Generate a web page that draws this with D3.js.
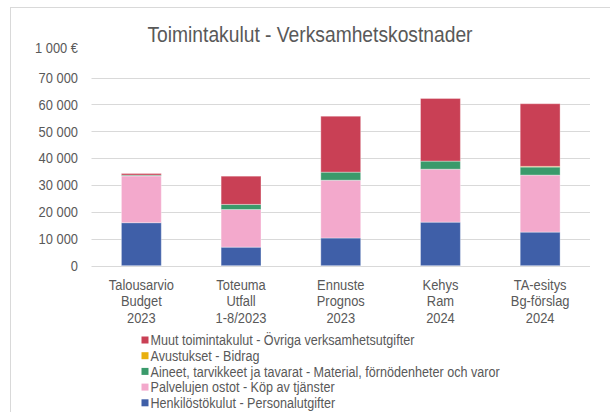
<!DOCTYPE html>
<html><head><meta charset="utf-8">
<script src="https://cdn.jsdelivr.net/npm/d3@7"></script>
<style>
html,body{margin:0;padding:0;background:#fff;}
svg{display:block;}
text{font-family:"Liberation Sans Narrow","Arial Narrow","Liberation Sans",sans-serif;fill:#595959;}
</style></head>
<body>
<svg id="chart" width="610" height="412"></svg>
<script>
const categories = [
  ["Talousarvio","Budget","2023"],
  ["Toteuma","Utfall","1-8/2023"],
  ["Ennuste","Prognos","2023"],
  ["Kehys","Ram","2024"],
  ["TA-esitys","Bg-förslag","2024"]
];
const seriesNames = [
  "Henkilöstökulut - Personalutgifter",
  "Palvelujen ostot - Köp av tjänster",
  "Aineet, tarvikkeet ja tavarat - Material, förnödenheter och varor",
  "Avustukset - Bidrag",
  "Muut toimintakulut - Övriga verksamhetsutgifter"
];
const seriesColors = ["#3F5FA8","#F3A9CC","#3A9A6B","#E8B00F","#C94055"];
const henkilosto = [16000, 6900, 10300, 16200, 12500];
const palvelut   = [17400, 14000, 21500, 19700, 21200];
const aineet     = [300, 1900, 3000, 3000, 3000];
const avustukset = [0, 0, 0, 0, 250];
const muut       = [600, 10500, 20800, 23300, 23300];
const yTicks = [0,10000,20000,30000,40000,50000,60000,70000];
const title = "Toimintakulut - Verksamhetskostnader";
const unitLabel = "1 000 €";

const seriesValues = [henkilosto, palvelut, aineet, avustukset, muut];
const rows = categories.map((c,i)=>{
  const r = {idx:i};
  seriesValues.forEach((s,k)=>{ r["s"+k] = s[i]; });
  return r;
});
const keys = seriesValues.map((_,k)=>"s"+k);
const stack = d3.stack().keys(keys)(rows);

const SX = 0.86;   // horizontal condensing to mimic a narrow face
const SXL = 0.84;
const FS = 15;

const svg = d3.select("#chart");
svg.append("rect").attr("x",10.5).attr("y",7.5).attr("width",640).attr("height",440)
  .attr("fill","none").attr("stroke","#d9d9d9").attr("stroke-width",1);

const x = d3.scaleBand().domain(d3.range(categories.length)).range([91.5,590]).paddingInner(0.6).paddingOuter(0.3);
const y = d3.scaleLinear().domain([0,70000]).range([265.7,77.5]);

svg.append("g").selectAll("line").data(yTicks).join("line")
  .attr("x1",91.5).attr("x2",590)
  .attr("y1",d=>Math.round(y(d))+0.5).attr("y2",d=>Math.round(y(d))+0.5)
  .attr("stroke","#d9d9d9").attr("stroke-width",1);

const fmt = d=> d===0 ? "0" : d3.format(",")(d).replace(/,/g," ");
const yAxis = d3.axisLeft(y).tickValues(yTicks).tickFormat(fmt).tickSize(0).tickPadding(0);
const yg = svg.append("g").attr("transform","translate(78,0)").call(yAxis);
yg.select(".domain").remove();
yg.selectAll("text").attr("font-size",FS).attr("fill","#595959")
  .attr("transform",`scale(${SX},1)`)
  .style("font-family",'"Liberation Sans Narrow","Arial Narrow","Liberation Sans",sans-serif');

svg.append("text").attr("transform",`translate(78,52.5) scale(${SX},1)`)
  .attr("text-anchor","end").attr("font-size",FS).text(unitLabel);

svg.append("g").selectAll("g").data(stack).join("g")
  .attr("fill",(d,i)=>seriesColors[i])
  .selectAll("rect").data(d=>d).join("rect")
  .attr("x",(d,i)=>x(i)).attr("width",x.bandwidth())
  .attr("y",d=>y(d[1])).attr("height",d=>Math.max(0,y(d[0])-y(d[1])))
  .attr("stroke",d=>(d[1]-d[0])>0?"rgba(255,255,255,0.35)":"none").attr("stroke-width",1);

const xl = svg.append("g");
categories.forEach((c,i)=>{
  const t = xl.append("text")
    .attr("transform",`translate(${x(i)+x.bandwidth()/2},290.3) scale(${SX},1)`)
    .attr("text-anchor","middle").attr("font-size",FS);
  c.forEach((line,j)=>{
    t.append("tspan").attr("x",0).attr("dy",j===0?0:16.2).text(line);
  });
});

svg.append("text").attr("transform","translate(310,41.5) scale(0.875,1)")
  .attr("text-anchor","middle").attr("font-size",22).text(title);

const legendOrder = d3.range(seriesNames.length).reverse();
const lg = svg.append("g");
legendOrder.forEach((k,j)=>{
  const cy = 340 + j*15.7;
  lg.append("rect").attr("x",141.5).attr("y",cy-3.5).attr("width",7).attr("height",7).attr("fill",seriesColors[k]);
  lg.append("text").attr("transform",`translate(150.5,${cy+5.2}) scale(${SXL},1)`)
    .attr("font-size",FS).text(seriesNames[k]);
});
</script>
</body></html>
